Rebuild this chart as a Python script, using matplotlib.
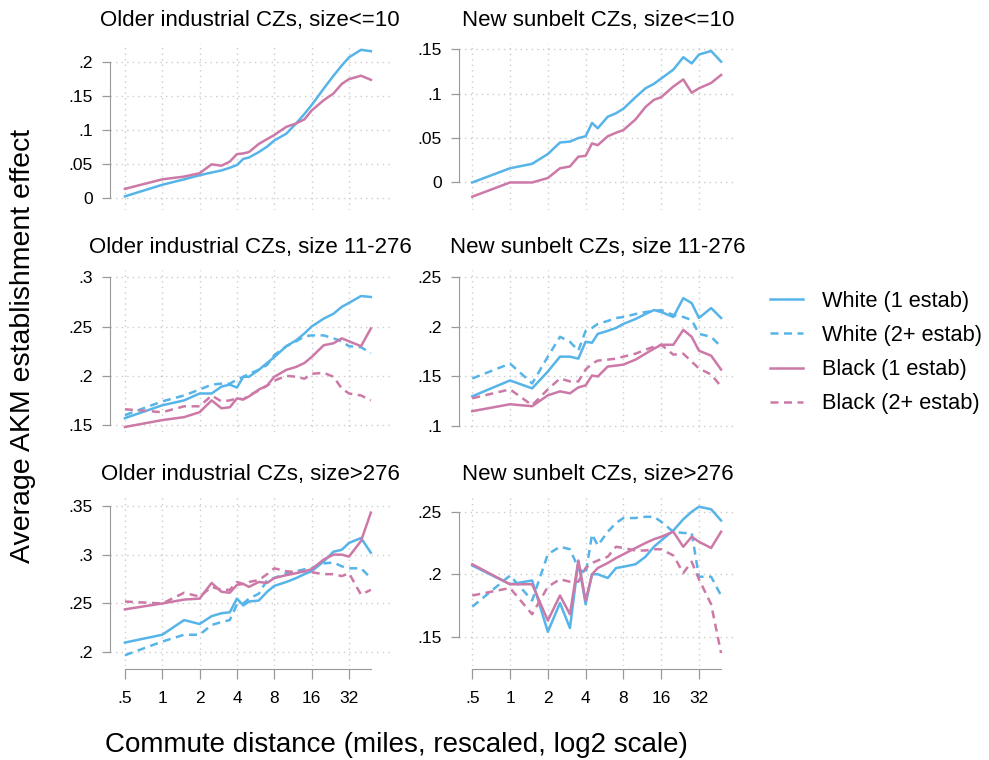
import numpy as np
import matplotlib
matplotlib.use("Agg")
import matplotlib.pyplot as plt
from matplotlib.lines import Line2D

plt.rcParams['font.family'] = ['Liberation Sans', 'DejaVu Sans']

# commute distance bins (miles, rescaled)
dist = [0.5, 1, 1.5, 2, 2.5, 3, 3.5, 4, 4.5, 5, 6, 7, 8, 10, 12, 14, 16, 20, 24, 28, 32, 40, 48]

# older industrial CZs, size<=10
old_small_white = [0.003, 0.020, 0.028, 0.034, 0.038, 0.041, 0.045, 0.049, 0.058, 0.060, 0.068, 0.076, 0.085, 0.095, 0.110, 0.124, 0.137, 0.161, 0.180, 0.195, 0.207, 0.218, 0.216]
old_small_black = [0.014, 0.028, 0.032, 0.037, 0.050, 0.048, 0.054, 0.065, 0.066, 0.068, 0.080, 0.087, 0.093, 0.105, 0.110, 0.116, 0.129, 0.144, 0.154, 0.168, 0.175, 0.180, 0.174]

# new sunbelt CZs, size<=10
sun_small_white = [0.000, 0.016, 0.021, 0.032, 0.045, 0.046, 0.050, 0.052, 0.067, 0.061, 0.074, 0.078, 0.083, 0.096, 0.106, 0.111, 0.117, 0.127, 0.141, 0.134, 0.144, 0.148, 0.136]
sun_small_black = [-0.016, 0.000, 0.000, 0.005, 0.016, 0.018, 0.029, 0.030, 0.044, 0.042, 0.052, 0.056, 0.059, 0.071, 0.085, 0.093, 0.096, 0.108, 0.116, 0.101, 0.106, 0.112, 0.121]

# older industrial CZs, size 11-276
old_mid_white1 = [0.157, 0.170, 0.175, 0.182, 0.182, 0.189, 0.191, 0.188, 0.199, 0.199, 0.206, 0.213, 0.219, 0.230, 0.236, 0.243, 0.250, 0.258, 0.263, 0.270, 0.274, 0.281, 0.280]
old_mid_white2 = [0.160, 0.174, 0.180, 0.186, 0.191, 0.192, 0.192, 0.196, 0.199, 0.202, 0.206, 0.211, 0.221, 0.230, 0.235, 0.240, 0.241, 0.241, 0.238, 0.235, 0.230, 0.229, 0.223]
old_mid_black1 = [0.148, 0.155, 0.158, 0.163, 0.175, 0.167, 0.168, 0.177, 0.176, 0.179, 0.186, 0.190, 0.199, 0.206, 0.209, 0.213, 0.219, 0.231, 0.233, 0.238, 0.235, 0.230, 0.248]
old_mid_black2 = [0.166, 0.163, 0.169, 0.169, 0.180, 0.174, 0.175, 0.177, 0.176, 0.180, 0.185, 0.190, 0.195, 0.200, 0.199, 0.197, 0.202, 0.203, 0.199, 0.187, 0.182, 0.180, 0.175]

# new sunbelt CZs, size 11-276
sun_mid_white1 = [0.130, 0.146, 0.138, 0.155, 0.170, 0.170, 0.168, 0.185, 0.184, 0.193, 0.196, 0.199, 0.203, 0.208, 0.213, 0.217, 0.215, 0.210, 0.229, 0.224, 0.209, 0.219, 0.209]
sun_mid_white2 = [0.148, 0.163, 0.143, 0.170, 0.190, 0.185, 0.176, 0.196, 0.199, 0.203, 0.206, 0.209, 0.210, 0.213, 0.215, 0.216, 0.217, 0.212, 0.210, 0.207, 0.193, 0.190, 0.180]
sun_mid_black1 = [0.115, 0.122, 0.120, 0.131, 0.135, 0.133, 0.139, 0.141, 0.151, 0.150, 0.160, 0.161, 0.162, 0.167, 0.173, 0.178, 0.182, 0.182, 0.197, 0.190, 0.176, 0.171, 0.157]
sun_mid_black2 = [0.128, 0.137, 0.121, 0.137, 0.148, 0.145, 0.145, 0.157, 0.163, 0.166, 0.167, 0.168, 0.170, 0.173, 0.177, 0.180, 0.182, 0.172, 0.173, 0.165, 0.158, 0.152, 0.140]

# older industrial CZs, size>276
old_big_white1 = [0.210, 0.218, 0.233, 0.229, 0.237, 0.240, 0.241, 0.255, 0.248, 0.252, 0.253, 0.262, 0.268, 0.272, 0.276, 0.280, 0.283, 0.293, 0.303, 0.305, 0.312, 0.317, 0.302]
old_big_white2 = [0.197, 0.211, 0.218, 0.218, 0.228, 0.231, 0.233, 0.249, 0.250, 0.255, 0.260, 0.274, 0.276, 0.281, 0.283, 0.285, 0.286, 0.291, 0.292, 0.288, 0.286, 0.286, 0.276]
old_big_black1 = [0.244, 0.250, 0.254, 0.255, 0.271, 0.262, 0.261, 0.269, 0.270, 0.267, 0.272, 0.271, 0.276, 0.279, 0.281, 0.283, 0.285, 0.295, 0.300, 0.300, 0.298, 0.314, 0.343]
old_big_black2 = [0.252, 0.250, 0.261, 0.257, 0.267, 0.264, 0.264, 0.272, 0.270, 0.272, 0.274, 0.280, 0.286, 0.283, 0.282, 0.283, 0.282, 0.280, 0.280, 0.278, 0.281, 0.259, 0.264]

# new sunbelt CZs, size>276
sun_big_white1 = [0.207, 0.192, 0.195, 0.154, 0.177, 0.157, 0.210, 0.176, 0.200, 0.200, 0.197, 0.205, 0.206, 0.208, 0.214, 0.222, 0.227, 0.235, 0.244, 0.250, 0.254, 0.252, 0.243]
sun_big_white2 = [0.174, 0.199, 0.179, 0.216, 0.222, 0.220, 0.205, 0.200, 0.232, 0.223, 0.234, 0.241, 0.245, 0.245, 0.246, 0.246, 0.242, 0.234, 0.233, 0.233, 0.198, 0.198, 0.183]
sun_big_black1 = [0.208, 0.192, 0.192, 0.163, 0.183, 0.168, 0.211, 0.179, 0.200, 0.205, 0.209, 0.213, 0.216, 0.221, 0.225, 0.228, 0.230, 0.234, 0.222, 0.230, 0.226, 0.221, 0.234]
sun_big_black2 = [0.183, 0.189, 0.168, 0.190, 0.196, 0.194, 0.194, 0.205, 0.209, 0.211, 0.214, 0.222, 0.221, 0.219, 0.219, 0.220, 0.220, 0.215, 0.201, 0.210, 0.196, 0.176, 0.137]

xticks = [0.5, 1, 2, 4, 8, 16, 32]
xticklabels = [".5", "1", "2", "4", "8", "16", "32"]

blue = "#56B4E9"
pink = "#CC79A7"

W, H = 989, 760


def stata_fmt(v):
    s = f"{v:g}"
    if s.startswith("0."):
        s = s[1:]
    return s


def px_axes(left, right, top, bottom):
    return fig.add_axes([left / W, 1 - bottom / H, (right - left) / W, (bottom - top) / H])


fig = plt.figure(figsize=(W / 100, H / 100), dpi=100)

# column boxes (pixels) with x limits, row boxes (pixels)
cols = [(110, 390, (0.379, 68.5)), (459, 737, (0.392, 64.3))]
rows = [(43, 210), (270, 432), (497, 666)]

panels = [
    ("Older industrial CZs, size<=10", [old_small_white, None, old_small_black, None],
     [0, .05, .1, .15, .2], (-0.017, 0.228), 0, 0),
    ("New sunbelt CZs, size<=10", [sun_small_white, None, sun_small_black, None],
     [0, .05, .1, .15], (-0.031, 0.157), 0, 1),
    ("Older industrial CZs, size 11-276", [old_mid_white1, old_mid_white2, old_mid_black1, old_mid_black2],
     [.15, .2, .25, .3], (0.1429, 0.3074), 1, 0),
    ("New sunbelt CZs, size 11-276", [sun_mid_white1, sun_mid_white2, sun_mid_black1, sun_mid_black2],
     [.1, .15, .2, .25], (0.094, 0.2574), 1, 1),
    ("Older industrial CZs, size>276", [old_big_white1, old_big_white2, old_big_black1, old_big_black2],
     [.2, .25, .3, .35], (0.186, 0.359), 2, 0),
    ("New sunbelt CZs, size>276", [sun_big_white1, sun_big_white2, sun_big_black1, sun_big_black2],
     [.15, .2, .25], (0.1266, 0.2618), 2, 1),
]

styles = [(blue, "-"), (blue, (0, (3.2, 2.2))), (pink, "-"), (pink, (0, (3.2, 2.2)))]

for title, series, yt, ylim, r, c in panels:
    left, right, xlim = cols[c]
    top, bottom = rows[r]
    ax = px_axes(left, right, top, bottom)
    for s, (col, ls) in zip(series, styles):
        if s is None:
            continue
        ax.plot(dist, s, color=col, linestyle=ls, lw=1.8)
    ax.set_xscale("log", base=2)
    ax.set_xlim(*xlim)
    ax.set_ylim(*ylim)
    ax.set_yticks(yt)
    ax.set_yticklabels([stata_fmt(v) for v in yt])
    ax.set_xticks(xticks)
    ax.minorticks_off()
    ax.grid(True, color="#cccccc", linestyle=(0, (1, 3)), lw=1.0)
    ax.set_axisbelow(True)
    for sp in ["top", "right"]:
        ax.spines[sp].set_visible(False)
    ax.spines["left"].set_color("#999999")
    ax.spines["left"].set_bounds(yt[0], yt[-1])
    ax.tick_params(axis="y", colors="#999999", labelcolor="black", length=6, width=0.9,
                   pad=6.5, labelsize=12.5)
    if r == 2:
        ax.spines["bottom"].set_color("#999999")
        ax.spines["bottom"].set_bounds(0.5, 48)
        ax.spines["bottom"].set_position(("outward", 2))
        ax.set_xticklabels(xticklabels)
        ax.tick_params(axis="x", colors="#999999", labelcolor="black", length=7, width=0.9,
                       pad=9, labelsize=12.5)
    else:
        ax.spines["bottom"].set_visible(False)
        ax.tick_params(axis="x", length=0, labelbottom=False)
    ax.set_title(title, fontsize=16, pad=12)

fig.text(23 / W, 1 - 346 / H, "Average AKM establishment effect", rotation=90,
         ha="center", va="center", fontsize=20.5)
fig.text(396 / W, 1 - 745 / H, "Commute distance (miles, rescaled, log2 scale)",
         ha="center", va="center", fontsize=20)

handles = [Line2D([], [], color=col, linestyle=ls, lw=1.8) for col, ls in styles]
labels = ["White (1 estab)", "White (2+ estab)", "Black (1 estab)", "Black (2+ estab)"]
fig.legend(handles, labels, loc="upper left", bbox_to_anchor=(770 / W, 1 - 291 / H),
           frameon=False, fontsize=15.7, handlelength=1.5, handletextpad=0.87,
           labelspacing=0.6, borderaxespad=0, borderpad=0)

fig.savefig("out.png", dpi=100)
